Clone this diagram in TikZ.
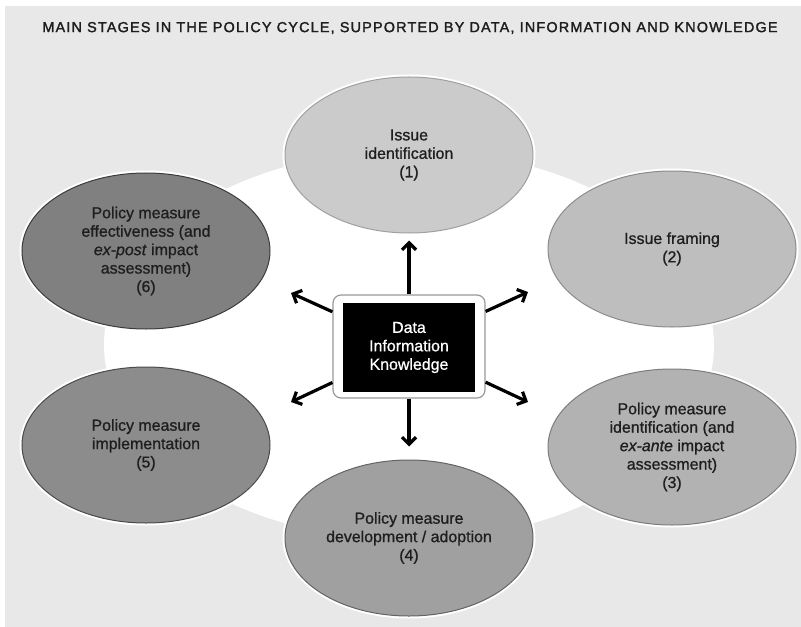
\documentclass[tikz,border=0pt]{standalone}
\usepackage{fontspec}
\setmainfont{Liberation Sans}
\newfontfamily\titlefont[LetterSpace=8,FakeBold=1.8]{Liberation Sans}
\newfontfamily\etapafont[FakeBold=0.9]{Liberation Sans}
\usetikzlibrary{shapes.geometric,arrows.meta}
\definecolor{fondo}{HTML}{E8E8E8}
\definecolor{texto}{HTML}{1E1E1E}
\tikzset{
  etapa/.style={ellipse, minimum width=248bp, minimum height=156bp, inner sep=0pt,
    align=center, text=texto, font=\etapafont\fontsize{16}{18.5}\selectfont, line width=1bp,
    preaction={draw=white, line width=5bp}},
  flecha/.style={line width=3.2bp, -{Straight Barb[length=7bp,width=14bp]}},
}
\begin{document}
\begin{tikzpicture}[x=1bp,y=-1bp]
    \useasboundingbox (0,0) rectangle (801,627);
    % Fondo
    \fill[fondo] (5,6) rectangle (801,627);
    \fill[white] (409,345) ellipse [x radius=305, y radius=195];
    \node (titulo) at (410,28) [font=\titlefont\fontsize{14.5}{16}\selectfont, text=texto]
      {MAIN STAGES IN THE POLICY CYCLE, SUPPORTED BY DATA, INFORMATION AND KNOWLEDGE};

    % Etapas del ciclo
    \node (e1) at (409,155) [etapa, fill={rgb,255:red,203;green,203;blue,203}, draw={rgb,255:red,160;green,160;blue,160}]
      {Issue\\identification\\(1)};
    \node (e2) at (672,249) [etapa, fill={rgb,255:red,190;green,190;blue,190}, draw={rgb,255:red,140;green,140;blue,140}]
      {Issue framing\\(2)};
    \node (e3) at (672,447) [etapa, fill={rgb,255:red,178;green,178;blue,178}, draw={rgb,255:red,125;green,125;blue,125}]
      {Policy measure\\identification (and\\\textit{ex-ante} impact\\assessment)\\(3)};
    \node (e4) at (409,538) [etapa, fill={rgb,255:red,160;green,160;blue,160}, draw={rgb,255:red,100;green,100;blue,100}]
      {Policy measure\\development / adoption\\(4)};
    \node (e5) at (146,445) [etapa, fill={rgb,255:red,140;green,140;blue,140}, draw={rgb,255:red,75;green,75;blue,75}]
      {Policy measure\\implementation\\(5)};
    \node (e6) at (146,251) [etapa, fill={rgb,255:red,128;green,128;blue,128}, draw={rgb,255:red,60;green,60;blue,60}]
      {Policy measure\\effectiveness (and\\\textit{ex-post} impact\\assessment)\\(6)};

    % Caja central
    \node (marco) at (409,346.5) [draw=black!40, fill=white, rounded corners=8bp, line width=1.2bp,
      minimum width=152bp, minimum height=103bp] {};
    \node (dik) at (409,347.5) [fill=black, minimum width=132bp, minimum height=89bp, text=white,
      align=center, font=\etapafont\fontsize{16}{18.5}\selectfont] {Data\\Information\\Knowledge};

    % Flechas
    \coordinate (p6) at (291,293);
    \coordinate (p2) at (528,292);
    \coordinate (p5) at (291,402);
    \coordinate (p3) at (528,402);
    \draw[flecha, shorten >=7bp] (marco) -- (e1);
    \draw[flecha, shorten >=13bp] (marco) -- (e4);
    \draw[flecha] (marco) -- (p6);
    \draw[flecha] (marco) -- (p2);
    \draw[flecha] (marco) -- (p5);
    \draw[flecha] (marco) -- (p3);
\end{tikzpicture}
\end{document}
